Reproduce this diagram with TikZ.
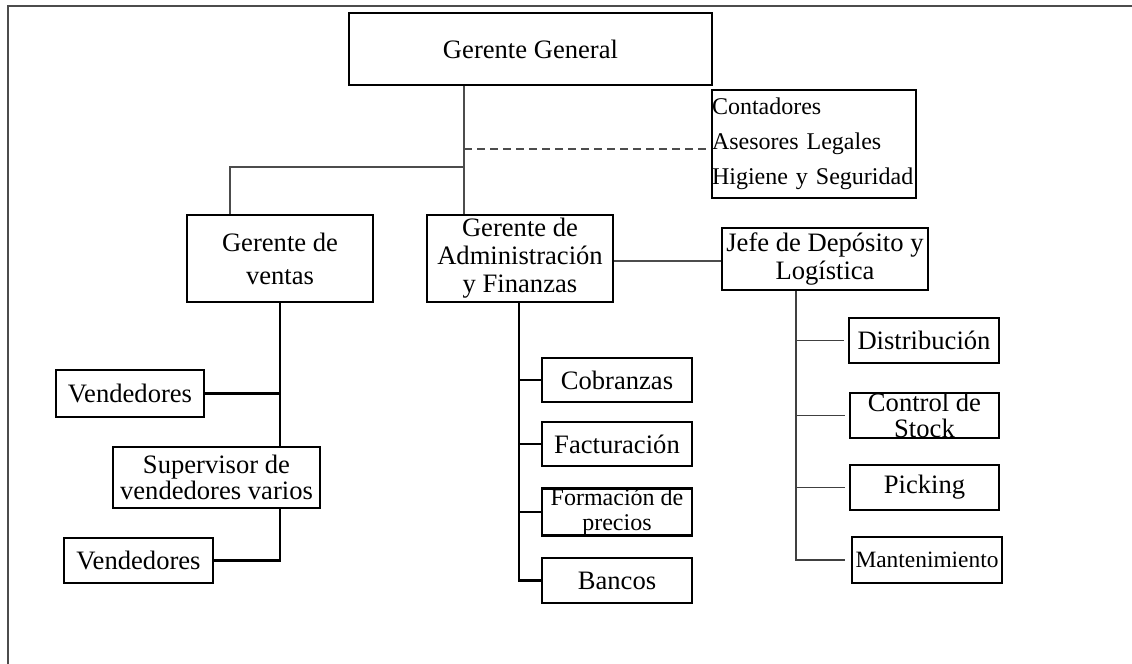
\documentclass[tikz,border=0pt]{standalone}
\usepackage{fontspec}
\setmainfont{Liberation Serif}
\usetikzlibrary{positioning}

\tikzset{
  cargo/.style={draw, line width=1.4pt, inner sep=0pt, align=center,
    font=\fontsize{13.3}{14}\selectfont},
  linea/.style={draw=black!70, line width=0.6pt},
  gruesa/.style={draw=black, line width=1.3pt},
  media/.style={draw=black!75, line width=0.85pt}
}

\begin{document}
\begin{tikzpicture}[x=0.5pt, y=-0.5pt]
  \useasboundingbox (0,0) rectangle (1132,664);
  % marco
  \draw [draw=black!70, line width=0.85pt] (8,664) -- (8,6) -- (1132,6);

  % cargos
  \node [cargo, minimum width=181.5pt, minimum height=36pt] (gg) at (530.5,49) {Gerente General};
  \node [cargo, text width=102pt, minimum height=54pt, align=left,
    font=\fontsize{12}{17.5}\selectfont] (ases) at (814,144)
    {Contadores\\Asesores Legales\\Higiene y Seguridad};
  \node [cargo, minimum width=93pt, minimum height=43.5pt,
    font=\fontsize{13.3}{16.5}\selectfont] (ven) at (280,258.5) {Gerente de\\ventas};
  \node [cargo, minimum width=93pt, minimum height=43.5pt] (adm) at (520,258.5)
    {Gerente de\\Administraci\'on\\y Finanzas};
  \node [cargo, minimum width=103pt, minimum height=31pt] (jefe) at (825,259)
    {Jefe de Dep\'osito y\\Log\'istica};

  \node [cargo, minimum width=74pt, minimum height=23.5pt] (vend1) at (130,393.5) {Vendedores};
  \node [cargo, minimum width=103.5pt, minimum height=30.5pt,
    font=\fontsize{13.3}{13}\selectfont] (sup) at (216.5,477.5) {Supervisor de\\vendedores varios};
  \node [cargo, minimum width=74.5pt, minimum height=22.5pt] (vend2) at (138.5,560.5) {Vendedores};

  \node [cargo, minimum width=75pt, minimum height=22pt] (cob) at (617,380) {Cobranzas};
  \node [cargo, minimum width=75pt, minimum height=22pt] (fac) at (617,444) {Facturaci\'on};
  \node [cargo, minimum width=75pt, minimum height=23pt,
    font=\fontsize{12}{12.5}\selectfont] (form) at (617,512) {Formaci\'on de\\precios};
  \node [cargo, minimum width=75pt, minimum height=22.5pt] (ban) at (617,580.5) {Bancos};

  \node [cargo, minimum width=75pt, minimum height=22.5pt] (dis) at (924,340.5) {Distribuci\'on};
  \node [cargo, minimum width=74.5pt, minimum height=22.5pt,
    font=\fontsize{13.3}{13}\selectfont] (cst) at (924.5,415.5) {Control de\\Stock};
  \node [cargo, minimum width=74.5pt, minimum height=22.5pt] (pic) at (924.5,487.5) {Picking};
  \node [cargo, minimum width=75pt, minimum height=23pt,
    font=\fontsize{11.7}{12}\selectfont] (man) at (927,560) {Mantenimiento};

  % lineas de mando
  \coordinate (eje) at (464,167);
  \coordinate (vizq) at (230,167);
  \coordinate (log) at (796,0);
  \draw [linea] (gg.south -| eje) -- (adm.north -| eje);
  \draw [linea] (eje) -- (vizq) -- (vizq |- ven.north);
  \draw [linea, dashed, dash pattern=on 4pt off 2.5pt] (eje |- 0,149) -- (ases.west |- 0,149);
  \draw [linea] (adm.east |- 0,261) -- (jefe.west |- 0,261);

  % ventas
  \draw [gruesa] (ven.south) -- (ven.south |- sup.north);
  \draw [gruesa] (vend1.east) -- (vend1.east -| ven.south);
  \draw [gruesa] (sup.south -| ven.south) -- (ven.south |- vend2.east) -- (vend2.east);

  % administracion
  \draw [gruesa] (adm.south -| 519,0) -- (519,0 |- ban.west) -- (ban.west);
  \foreach \n in {cob,fac,form}
    \draw [gruesa] (519,0 |- \n.west) -- (\n.west);

  % deposito
  \draw [media] (jefe.south -| log) -- (log |- man.west) -- ([xshift=-3pt]man.west);
  \foreach \n in {dis,cst,pic}
    \draw [media] (log |- \n.west) -- ([xshift=-2pt]\n.west);
\end{tikzpicture}
\end{document}
